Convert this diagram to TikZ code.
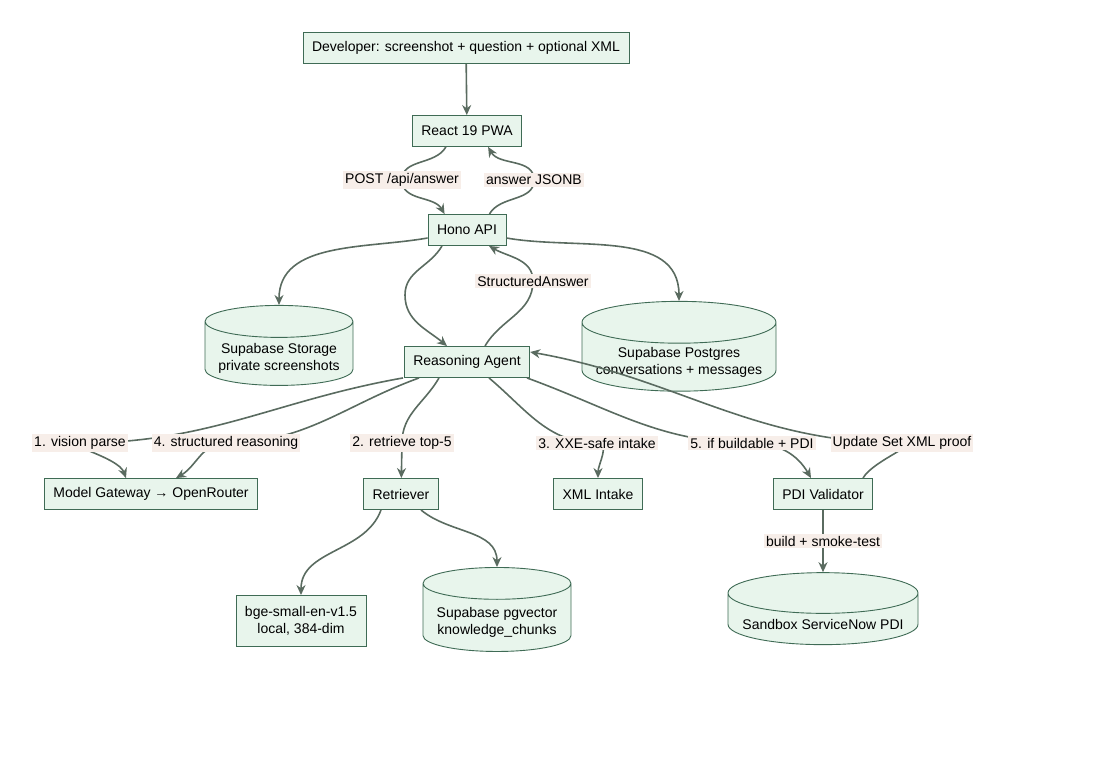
\documentclass[tikz,border=0pt]{standalone}
\usepackage{fontspec}
\setmainfont{Liberation Sans}
\usetikzlibrary{shapes.geometric,arrows.meta}
\definecolor{nfill}{HTML}{E8F5EC}
\definecolor{nline}{HTML}{3F6B55}
\definecolor{eline}{HTML}{5A6B60}
\definecolor{lbg}{HTML}{F7EEE9}
\tikzset{
 box/.style={draw=nline,fill=nfill,line width=0.9pt,inner xsep=9pt,minimum height=31pt,font=\fontsize{14}{17}\selectfont,align=center},
 db/.style={cylinder,shape border rotate=90,aspect=0.22,draw=nline,fill=nfill,line width=0.9pt,font=\fontsize{14}{17}\selectfont,align=center,inner xsep=12pt},
 edge/.style={draw=eline,line width=1.6pt,-{Stealth[length=10pt,width=9pt]}},
 lab/.style={fill=lbg,font=\fontsize{14}{17}\selectfont,inner sep=2pt}
}
\begin{document}
\begin{tikzpicture}[x=1pt,y=-1pt]
\useasboundingbox (0,0) rectangle (1120,760);
\node[box] (dev) at (466,48) {Developer: screenshot + question + optional XML};
\node[box] (react) at (467,131) {React 19 PWA};
\node[box] (hono) at (467,230) {Hono API};
\node[db,minimum width=148pt,minimum height=80pt] (stor) at (279,358) {Supabase Storage\\private screenshots};
\node[box] (reas) at (467,362) {Reasoning Agent};
\node[db,minimum width=194pt,minimum height=89pt] (pg) at (679,362) {Supabase Postgres\\conversations + messages};
\node[box] (mg) at (151,494) {Model Gateway \textrightarrow{} OpenRouter};
\node[box] (ret) at (401,494) {Retriever};
\node[box] (xml) at (598,494) {XML Intake};
\node[box] (pdi) at (823,494) {PDI Validator};
\node[box,minimum height=51pt] (bge) at (301,621) {bge-small-en-v1.5\\local, 384-dim};
\node[db,minimum width=148pt,minimum height=84pt] (vec) at (497,622) {Supabase pgvector\\knowledge\_chunks};
\node[db,minimum width=190pt,minimum height=72pt] (sb) at (823,624) {Sandbox ServiceNow PDI};

\coordinate (l1) at (402,180);
\coordinate (l2) at (534,180);
\coordinate (l3) at (533,281);
\coordinate (la) at (80,443);
\coordinate (lb) at (226,443);
\coordinate (lc) at (402,443);
\coordinate (ld) at (597,443);
\coordinate (le) at (752,443);
\coordinate (lf) at (902,443);

\draw[edge] (dev) -- (react);
\draw[edge] (react.south west)++(34,0) to[out=-120,in=90] (l1) to[out=-90,in=120] ([xshift=17pt]hono.north west);
\draw[edge] ([xshift=-17pt]hono.north east) to[out=60,in=-90] (l2) to[out=90,in=-60] ([xshift=-34pt]react.south east);
\draw[edge] ([yshift=-8pt]hono.west) to[out=190,in=90] (stor.north);
\draw[edge] ([yshift=-8pt]hono.east) to[out=-10,in=90] (pg.north);
\draw[edge] ([xshift=-25pt]hono.south) to[out=-120,in=90] (405,295) to[out=-90,in=140] ([xshift=-20pt]reas.north);
\draw[edge] ([xshift=18pt]reas.north) to[out=60,in=-90] (l3) to[out=90,in=-30] ([xshift=22pt]hono.south);
\draw[edge] ([xshift=-64pt]reas.south) to[out=190,in=0] (la) to[out=180,in=110] ([xshift=-25pt]mg.north);
\draw[edge] ([xshift=-48pt]reas.south) to[out=200,in=0] (lb) to[out=180,in=30] ([xshift=25pt]mg.north);
\draw[edge] ([xshift=-28pt]reas.south) to[out=-120,in=90] (lc) -- (ret);
\draw[edge] ([xshift=22pt]reas.south) to[out=-40,in=180] (ld) to[out=0,in=90] (xml.north);
\draw[edge] ([xshift=60pt]reas.south) to[out=-20,in=180] (le) to[out=0,in=120] ([xshift=-12pt]pdi.north);
\draw[edge] ([xshift=40pt]pdi.north) to[out=60,in=0] (lf) to[out=180,in=-10] ([yshift=10pt]reas.east);
\draw[edge] ([xshift=-20pt]ret.south) to[out=-110,in=90] (bge.north);
\draw[edge] ([xshift=20pt]ret.south) to[out=-40,in=90] (vec.north);
\draw[edge] (pdi) -- node[lab]{build + smoke-test} (sb);

\node[lab] at (l1) {POST /api/answer};
\node[lab] at (l2) {answer JSONB};
\node[lab] at (l3) {StructuredAnswer};
\node[lab] at (la) {1. vision parse};
\node[lab] at (lb) {4. structured reasoning};
\node[lab] at (lc) {2. retrieve top-5};
\node[lab] at (ld) {3. XXE-safe intake};
\node[lab] at (le) {5. if buildable + PDI};
\node[lab] at (lf) {Update Set XML proof};
\end{tikzpicture}
\end{document}
